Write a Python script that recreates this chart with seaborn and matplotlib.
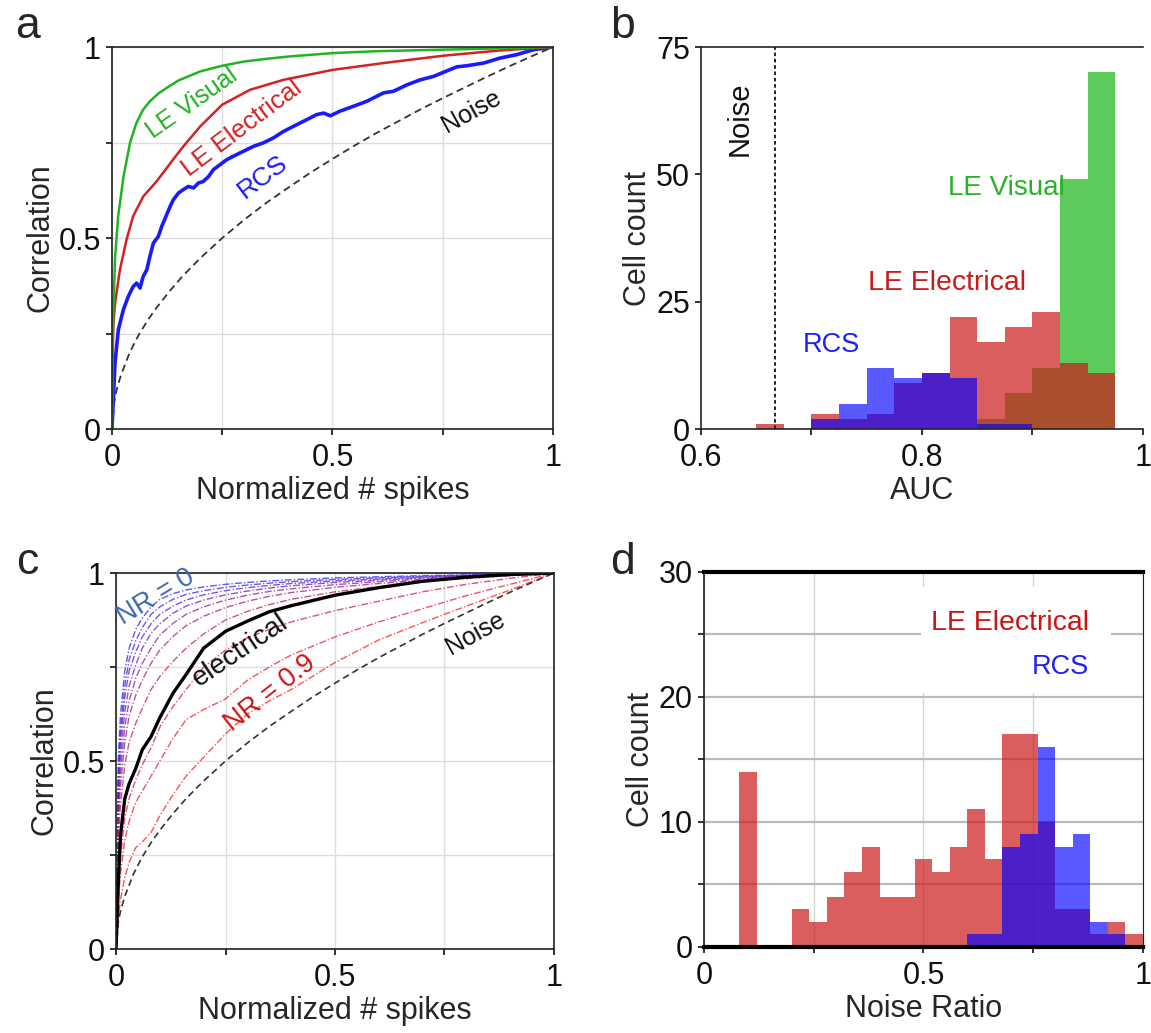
import numpy as np
import pandas as pd
import matplotlib
matplotlib.use("Agg")
import matplotlib.pyplot as plt
import seaborn as sns
from matplotlib.patches import Rectangle

sns.set_theme(style="white")
plt.rcParams['font.family'] = ['Liberation Sans', 'DejaVu Sans']

# ---------------- data: panel a ----------------
vis_x = [0, 0.001, 0.003, 0.007, 0.014, 0.026, 0.041, 0.055, 0.07, 0.086, 0.105, 0.124, 0.15, 0.2, 0.25, 0.3, 0.35, 0.4, 0.5, 0.6, 0.75, 0.9, 1.0]
vis_y = [0, 0.2, 0.30, 0.45, 0.557, 0.66, 0.75, 0.80, 0.835, 0.858, 0.878, 0.893, 0.912, 0.936, 0.951, 0.962, 0.969, 0.975, 0.984, 0.989, 0.993, 0.997, 1.0]

ele_x = [0, 0.001, 0.003, 0.007, 0.018, 0.033, 0.048, 0.071, 0.101, 0.124, 0.145, 0.162, 0.2, 0.25, 0.313, 0.389, 0.5, 0.616, 0.75, 0.88, 1.0]
ele_y = [0, 0.15, 0.27, 0.33, 0.417, 0.496, 0.557, 0.609, 0.648, 0.683, 0.715, 0.74, 0.792, 0.849, 0.888, 0.914, 0.94, 0.958, 0.977, 0.991, 1.0]

rcs_x = [0, 0.0068, 0.0144, 0.0257, 0.037, 0.048, 0.056, 0.0635, 0.071, 0.079, 0.086, 0.094, 0.105, 0.113, 0.124, 0.132, 0.139, 0.151, 0.162, 0.173, 0.185, 0.196, 0.207, 0.219, 0.23, 0.245, 0.26, 0.275, 0.298, 0.321, 0.343, 0.366, 0.389, 0.411, 0.442, 0.464, 0.48, 0.495, 0.517, 0.548, 0.578, 0.616, 0.638, 0.669, 0.699, 0.729, 0.767, 0.782, 0.805, 0.843, 0.88, 0.918, 0.956, 1.0]
rcs_y = [0, 0.173, 0.26, 0.312, 0.347, 0.373, 0.382, 0.369, 0.40, 0.417, 0.452, 0.487, 0.504, 0.531, 0.561, 0.583, 0.60, 0.618, 0.627, 0.635, 0.631, 0.644, 0.648, 0.661, 0.679, 0.692, 0.705, 0.714, 0.727, 0.74, 0.749, 0.762, 0.779, 0.792, 0.81, 0.823, 0.827, 0.82, 0.832, 0.845, 0.858, 0.88, 0.884, 0.901, 0.914, 0.923, 0.941, 0.948, 0.951, 0.958, 0.971, 0.98, 0.993, 1.0]

noise_x = [0, 0.005, 0.01, 0.02, 0.04, 0.06, 0.08, 0.1, 0.13, 0.16, 0.2, 0.25, 0.3, 0.35, 0.4, 0.45, 0.5, 0.55, 0.6, 0.65, 0.7, 0.75, 0.8, 0.85, 0.9, 0.95, 1.0]
noise_y = [0, 0.07, 0.1, 0.14, 0.2, 0.245, 0.283, 0.316, 0.36, 0.4, 0.447, 0.5, 0.548, 0.592, 0.632, 0.671, 0.707, 0.742, 0.775, 0.806, 0.837, 0.866, 0.894, 0.922, 0.949, 0.975, 1.0]

# ---------------- data: panel b (AUC histograms) ----------------
auc_edges = [0.65, 0.675, 0.70, 0.725, 0.75, 0.775, 0.80, 0.825, 0.85, 0.875, 0.90, 0.925, 0.95, 0.975]
auc_visual = [0, 0, 0, 0, 0, 0, 0, 0, 2, 7, 12, 49, 70]
auc_electrical = [1, 0, 3, 2, 3, 9, 11, 22, 17, 20, 23, 13, 11]
auc_rcs = [0, 0, 2, 5, 12, 10, 11, 10, 1, 1, 0, 0, 0]
auc_noise = 0.667

# ---------------- data: panel c ----------------
nr_x = [0, 0.005, 0.01, 0.02, 0.03, 0.045, 0.06, 0.08, 0.1, 0.13, 0.16, 0.2, 0.25, 0.3, 0.35, 0.4, 0.5, 0.6, 0.7, 0.8, 0.9, 1.0]
nr_levels = [0.0, 0.1, 0.2, 0.3, 0.4, 0.5, 0.6, 0.7, 0.8, 0.9]
nr_0 = [0, 0.50, 0.62, 0.74, 0.80, 0.85, 0.88, 0.91, 0.93, 0.945, 0.955, 0.963, 0.97, 0.975, 0.979, 0.982, 0.987, 0.99, 0.993, 0.995, 0.998, 1]
nr_1 = [0, 0.45, 0.58, 0.70, 0.77, 0.82, 0.855, 0.89, 0.91, 0.93, 0.943, 0.953, 0.962, 0.968, 0.973, 0.977, 0.983, 0.987, 0.991, 0.994, 0.997, 1]
nr_2 = [0, 0.42, 0.55, 0.67, 0.74, 0.79, 0.83, 0.865, 0.89, 0.912, 0.928, 0.942, 0.953, 0.961, 0.967, 0.972, 0.979, 0.984, 0.989, 0.993, 0.996, 1]
nr_3 = [0, 0.38, 0.51, 0.63, 0.70, 0.755, 0.80, 0.84, 0.865, 0.893, 0.912, 0.928, 0.942, 0.952, 0.96, 0.966, 0.975, 0.981, 0.987, 0.992, 0.996, 1]
nr_4 = [0, 0.35, 0.47, 0.59, 0.66, 0.72, 0.76, 0.80, 0.835, 0.866, 0.89, 0.91, 0.928, 0.941, 0.951, 0.958, 0.969, 0.977, 0.984, 0.99, 0.995, 1]
nr_5 = [0, 0.32, 0.43, 0.55, 0.62, 0.675, 0.715, 0.76, 0.795, 0.831, 0.86, 0.885, 0.908, 0.925, 0.938, 0.948, 0.962, 0.972, 0.981, 0.988, 0.994, 1]
nr_6 = [0, 0.28, 0.38, 0.49, 0.55, 0.60, 0.64, 0.69, 0.725, 0.765, 0.80, 0.838, 0.875, 0.898, 0.916, 0.93, 0.95, 0.964, 0.976, 0.985, 0.993, 1]
nr_7 = [0, 0.14, 0.24, 0.35, 0.40, 0.45, 0.49, 0.535, 0.59, 0.645, 0.69, 0.75, 0.795, 0.828, 0.85, 0.87, 0.90, 0.925, 0.95, 0.97, 0.986, 1]
nr_8 = [0, 0.12, 0.2, 0.29, 0.34, 0.39, 0.42, 0.46, 0.5, 0.56, 0.61, 0.637, 0.665, 0.715, 0.75, 0.782, 0.83, 0.87, 0.905, 0.94, 0.97, 1]
nr_9 = [0, 0.08, 0.13, 0.19, 0.23, 0.27, 0.285, 0.31, 0.355, 0.41, 0.46, 0.51, 0.572, 0.625, 0.66, 0.69, 0.762, 0.822, 0.868, 0.912, 0.955, 1]
electrical_c = [0, 0.17, 0.30, 0.40, 0.44, 0.48, 0.53, 0.565, 0.615, 0.68, 0.73, 0.80, 0.845, 0.872, 0.897, 0.913, 0.941, 0.961, 0.978, 0.989, 0.996, 1]

# ---------------- data: panel d (noise ratio histograms) ----------------
nr_edges = [0.08, 0.12, 0.16, 0.20, 0.24, 0.28, 0.32, 0.36, 0.40, 0.44, 0.48, 0.52, 0.56, 0.60, 0.64, 0.68, 0.72, 0.76, 0.80, 0.84, 0.88, 0.92, 0.96, 1.00]
ratio_electrical = [14, 0, 0, 3, 2, 4, 6, 8, 4, 4, 7, 6, 8, 11, 7, 17, 17, 10, 3, 3, 1, 2, 1]
ratio_rcs = [0, 0, 0, 0, 0, 0, 0, 0, 0, 0, 0, 0, 0, 1, 1, 8, 9, 16, 8, 9, 2, 1, 0]

# ---------------- style ----------------
GREEN = (0.13, 0.70, 0.13)
RED = (0.83, 0.13, 0.13)
BLUE = (0.10, 0.10, 1.00)
H_RED = (0.80, 0.10, 0.10)
H_BLUE = (0.0, 0.0, 1.0)
H_GREEN = (0.20, 0.75, 0.20)
TICK_FS = 22
LAB_FS = 22

fig = plt.figure(figsize=(11.51, 10.33), dpi=100)
ax_a = fig.add_axes([0.0973, 0.5847, 0.3831, 0.3698])
ax_b = fig.add_axes([0.609, 0.5847, 0.3840, 0.3698])
ax_c = fig.add_axes([0.1008, 0.0813, 0.3805, 0.3640])
ax_d = fig.add_axes([0.6116, 0.0833, 0.3814, 0.3630])


def style_box(ax, lw=1.2):
    for s in ax.spines.values():
        s.set_visible(True)
        s.set_color('#222222')
        s.set_linewidth(lw)
    ax.tick_params(axis='both', which='both', direction='out', length=4, width=1.2,
                   labelsize=TICK_FS, colors='#111111', bottom=True, left=True, pad=4)
    ax.tick_params(axis='x', pad=6)


def curve_axes(ax):
    ax.set_xlim(0, 1)
    ax.set_ylim(0, 1)
    ax.set_xticks([0, 0.25, 0.5, 0.75, 1])
    ax.set_xticklabels(['0', '', '0.5', '', '1'])
    ax.set_yticks([0, 0.25, 0.5, 0.75, 1])
    ax.set_yticklabels(['0', '', '0.5', '', '1'])
    ax.grid(True, color='#dddddd', linewidth=1.0)
    ax.set_axisbelow(True)
    style_box(ax)
    ax.set_xlabel('Normalized # spikes', fontsize=LAB_FS, labelpad=2)
    ax.set_ylabel('Correlation', fontsize=LAB_FS, labelpad=2)


# ---------------- panel a ----------------
sns.lineplot(x=noise_x, y=noise_y, ax=ax_a, color='#333333', lw=1.3, linestyle=(0, (4, 2.5)), sort=False, estimator=None)
sns.lineplot(x=rcs_x, y=rcs_y, ax=ax_a, color=BLUE, lw=2.6, sort=False, estimator=None)
sns.lineplot(x=ele_x, y=ele_y, ax=ax_a, color=RED, lw=1.8, sort=False, estimator=None)
sns.lineplot(x=vis_x, y=vis_y, ax=ax_a, color=GREEN, lw=1.8, sort=False, estimator=None)
curve_axes(ax_a)
ax_a.text(0.181, 0.853, 'LE Visual', color=GREEN, fontsize=18, rotation=35, ha='center', va='center')
ax_a.text(0.294, 0.788, 'LE Electrical', color=RED, fontsize=18.5, rotation=37, ha='center', va='center')
ax_a.text(0.343, 0.661, 'RCS', color=BLUE, fontsize=19, rotation=37, ha='center', va='center')
ax_a.text(0.816, 0.832, 'Noise', color='#111111', fontsize=18, rotation=29, ha='center', va='center')

# ---------------- panel b ----------------
auc_centers = [(auc_edges[i] + auc_edges[i + 1]) / 2 for i in range(len(auc_edges) - 1)]
sns.histplot(x=auc_centers, weights=auc_visual, bins=auc_edges, ax=ax_b, color=H_GREEN, alpha=0.8, linewidth=0, edgecolor=None)
sns.histplot(x=auc_centers, weights=auc_electrical, bins=auc_edges, ax=ax_b, color=H_RED, alpha=0.7, linewidth=0, edgecolor=None)
sns.histplot(x=auc_centers, weights=auc_rcs, bins=auc_edges, ax=ax_b, color=H_BLUE, alpha=0.65, linewidth=0, edgecolor=None)
ax_b.axvline(auc_noise, color='#111111', lw=1.3, linestyle=(0, (2, 1.5)))
ax_b.set_xlim(0.6, 1.0)
ax_b.set_ylim(0, 75)
ax_b.set_xticks([0.6, 0.7, 0.8, 0.9, 1.0])
ax_b.set_xticklabels(['0.6', '', '0.8', '', '1'])
ax_b.set_yticks([0, 25, 50, 75])
ax_b.set_yticklabels(['0', '25', '50', '75'])
style_box(ax_b)
ax_b.spines['right'].set_visible(False)
ax_b.set_xlabel('AUC', fontsize=LAB_FS, labelpad=2)
ax_b.set_ylabel('Cell count', fontsize=LAB_FS, labelpad=2)
ax_b.text(0.635, 61, 'Noise', rotation=90, fontsize=21, ha='center', va='center', color='#111111')
ax_b.text(0.824, 47.3, 'LE Visual', color=(0.15, 0.70, 0.15), fontsize=20, ha='left', va='center')
ax_b.text(0.751, 28.7, 'LE Electrical', color=(0.80, 0.10, 0.10), fontsize=20.5, ha='left', va='center')
ax_b.text(0.692, 16.5, 'RCS', color=(0.12, 0.12, 1.0), fontsize=19.5, ha='left', va='center')

# ---------------- panel c ----------------
sns.lineplot(x=noise_x, y=noise_y, ax=ax_c, color='#333333', lw=1.2, linestyle=(0, (4, 2.5)), sort=False, estimator=None)
nr_curves = [nr_0, nr_1, nr_2, nr_3, nr_4, nr_5, nr_6, nr_7, nr_8, nr_9]
for lev, ys in zip(nr_levels, nr_curves):
    t = lev / 0.9
    col = (0.15 + 0.85 * t, 0.12 * (1 - t) + 0.1 * t, 1.0 - 0.9 * t)
    sns.lineplot(x=nr_x, y=ys, ax=ax_c, color=col, lw=1.0, alpha=0.75,
                 linestyle=(0, (5, 1.5, 1, 1.5)), sort=False, estimator=None)
sns.lineplot(x=nr_x, y=electrical_c, ax=ax_c, color='black', lw=2.4, sort=False, estimator=None)
curve_axes(ax_c)
ax_c.text(0.09, 0.935, 'NR = 0', color=(0.23, 0.40, 0.68), fontsize=19.5, rotation=31, ha='center', va='center')
ax_c.text(0.284, 0.795, 'electrical', color='#111111', fontsize=20, rotation=34, ha='center', va='center')
ax_c.text(0.352, 0.68, 'NR = 0.9', color=(0.80, 0.08, 0.08), fontsize=19.5, rotation=38, ha='center', va='center')
ax_c.text(0.82, 0.84, 'Noise', color='#111111', fontsize=18, rotation=29, ha='center', va='center')

# ---------------- panel d ----------------
nr_centers = [(nr_edges[i] + nr_edges[i + 1]) / 2 for i in range(len(nr_edges) - 1)]
sns.histplot(x=nr_centers, weights=ratio_electrical, bins=nr_edges, ax=ax_d, color=H_RED, alpha=0.7, linewidth=0, edgecolor=None)
sns.histplot(x=nr_centers, weights=ratio_rcs, bins=nr_edges, ax=ax_d, color=H_BLUE, alpha=0.65, linewidth=0, edgecolor=None)
ax_d.set_xlim(0, 1)
ax_d.set_ylim(0, 30)
ax_d.set_xticks([0, 0.25, 0.5, 0.75, 1])
ax_d.set_xticklabels(['0', '', '0.5', '', '1'])
ax_d.set_yticks([0, 5, 10, 15, 20, 25, 30])
ax_d.set_yticklabels(['0', '', '10', '', '20', '', '30'])
ax_d.grid(True, axis='y', color='#bbbbbb', linewidth=1.6)
ax_d.grid(True, axis='x', color='#d5d5d5', linewidth=1.0)
ax_d.set_axisbelow(True)
style_box(ax_d)
ax_d.spines['top'].set_linewidth(3)
ax_d.spines['bottom'].set_linewidth(3)
ax_d.spines['top'].set_color('black')
ax_d.spines['bottom'].set_color('black')
ax_d.spines['right'].set_linewidth(0.8)
ax_d.add_patch(Rectangle((0.494, 20.3), 0.434, 8.5, facecolor='white', edgecolor='none', zorder=0.6))
ax_d.set_xlabel('Noise Ratio', fontsize=LAB_FS, labelpad=2)
ax_d.set_ylabel('Cell count', fontsize=LAB_FS, labelpad=2)
ax_d.text(0.878, 25.9, 'LE Electrical', color=(0.80, 0.08, 0.08), fontsize=20.5, ha='right', va='center', zorder=3)
ax_d.text(0.878, 22.4, 'RCS', color=(0.12, 0.12, 1.0), fontsize=19.5, ha='right', va='center', zorder=3)

# panel letters
fig.text(0.024, 0.974, 'a', fontsize=32, ha='center', va='center')
fig.text(0.541, 0.974, 'b', fontsize=32, ha='center', va='center')
fig.text(0.024, 0.455, 'c', fontsize=32, ha='center', va='center')
fig.text(0.541, 0.455, 'd', fontsize=32, ha='center', va='center')

fig.savefig('out.png', dpi=100)
